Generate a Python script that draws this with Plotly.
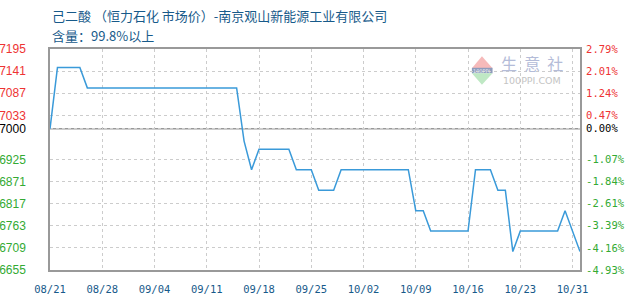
import pandas as pd
import plotly.graph_objects as go

# ---- data ----
title_text = "己二酸 （恒力石化 市场价）-南京观山新能源工业有限公司"
subtitle_text = "含量：99.8%以上"
base_price = 7000

dates_all = pd.date_range("2023-08-21", "2023-11-01", freq="D")
skip_dates = ["10/28"]
dates = [d.strftime("%m/%d") for d in dates_all if d.strftime("%m/%d") not in skip_dates]

prices = ([7000] + [7150] * 4 + [7100] * 21 + [6970, 6900] + [6950] * 5 +
          [6900] * 3 + [6850] * 3 + [6900] * 10 + [6800] * 2 + [6750] * 6 +
          [6900] * 3 + [6850] * 2 + [6700] + [6750] * 6 + [6800, 6750, 6700])

y_ticks = [7195, 7141, 7087, 7033, 7000, 6925, 6871, 6817, 6763, 6709, 6655]
x_tick_labels = [dates[i] for i in range(0, len(dates), 7)]

RED = "#ee3333"
GREEN = "#33aa33"
BLACK = "#000000"
BLUE_TXT = "#175a8a"


def col(v):
    return RED if v > base_price else (GREEN if v < base_price else BLACK)


pct = [(p - base_price) / base_price * 100 for p in prices]
pct_ticks = [(v - base_price) / base_price * 100 for v in y_ticks]
left_text = [f'<span style="color:{col(v)}">{v}</span>' for v in y_ticks]
right_text = [f'<span style="color:{col(v)}">{p:.2f}%</span>' for v, p in zip(y_ticks, pct_ticks)]

fig = go.Figure()
fig.add_trace(go.Scatter(x=dates, y=prices, mode="lines",
                         line=dict(color="#3a9ad9", width=1.5),
                         hoverinfo="x+y", showlegend=False))
fig.add_trace(go.Scatter(x=dates, y=pct, mode="lines", yaxis="y2",
                         line=dict(color="rgba(0,0,0,0)", width=0),
                         hoverinfo="skip", showlegend=False))

ymin, ymax = min(y_ticks), max(y_ticks)
mono = "DejaVu Sans Mono"

fig.update_layout(
    width=630, height=300,
    margin=dict(l=50, r=50, t=49, b=30, autoexpand=False),
    paper_bgcolor="white", plot_bgcolor="white",
    xaxis=dict(type="category", range=[0, len(dates) - 1], automargin=False,
               tickvals=x_tick_labels, ticktext=x_tick_labels,
               showgrid=True, gridcolor="#cccccc", griddash="3px,3px", gridwidth=1,
               showline=True, linecolor="#999999", linewidth=1.5, mirror=True,
               ticks="outside", ticklen=9, tickcolor="rgba(0,0,0,0)",
               tickfont=dict(family=mono, size=10.5, color=BLUE_TXT),
               zeroline=False, fixedrange=True),
    yaxis=dict(range=[ymin, ymax], tickvals=y_ticks, ticktext=left_text, automargin=False,
               showgrid=True, gridcolor="#cccccc", griddash="3px,3px", gridwidth=1,
               showline=True, linecolor="#999999", linewidth=1.5, mirror=True,
               ticks="outside", ticklen=20, tickcolor="rgba(0,0,0,0)",
               tickfont=dict(family="Liberation Sans", size=12),
               zeroline=False, fixedrange=True),
    yaxis2=dict(overlaying="y", side="right", automargin=False,
                range=[(ymin - base_price) / base_price * 100, (ymax - base_price) / base_price * 100],
                tickvals=pct_ticks, ticktext=right_text,
                showgrid=False, showline=False, zeroline=False,
                ticks="outside", ticklen=3, tickcolor="rgba(0,0,0,0)",
                tickfont=dict(family=mono, size=10.5), fixedrange=True),
    shapes=[
        dict(type="line", xref="paper", x0=0, x1=1, yref="y", y0=base_price, y1=base_price,
             line=dict(color="#999999", width=1.5), layer="below"),
        # watermark logo
        dict(type="path", xref="paper", yref="paper",
             path="M 0.796 0.913 L 0.815 0.967 L 0.835 0.913 Z",
             fillcolor="#f6baba", line=dict(width=0), layer="below"),
        dict(type="rect", xref="paper", yref="paper", x0=0.796, x1=0.835, y0=0.890, y1=0.915,
             fillcolor="#8f9cbc", line=dict(width=0), layer="below"),
        dict(type="path", xref="paper", yref="paper",
             path="M 0.796 0.890 L 0.815 0.838 L 0.835 0.890 Z",
             fillcolor="#bfe8c4", line=dict(width=0), layer="below"),
    ],
    annotations=[
        dict(xref="paper", yref="paper", x=0, y=(270 - 15) / 221, xanchor="left", yanchor="middle",
             text=title_text, showarrow=False,
             font=dict(family="Noto Sans CJK SC", size=13, color=BLUE_TXT)),
        dict(xref="paper", yref="paper", x=0, y=(270 - 35) / 221, xanchor="left", yanchor="middle",
             text=subtitle_text, showarrow=False,
             font=dict(family="Noto Sans CJK SC", size=13, color=BLUE_TXT)),
        dict(xref="paper", yref="paper", x=0.910, y=0.935, xanchor="center", yanchor="middle",
             text="生  意  社", showarrow=False,
             font=dict(family="Noto Sans CJK SC", size=16, color="#b4bcd8")),
        dict(xref="paper", yref="paper", x=0.910, y=0.858, xanchor="center", yanchor="middle",
             text="100PPI.COM", showarrow=False,
             font=dict(family="DejaVu Sans", size=9.5, color="#c4c4c4")),
        dict(xref="paper", yref="paper", x=0.815, y=0.902, xanchor="center", yanchor="middle",
             text="100PPI", showarrow=False,
             font=dict(family="DejaVu Sans", size=5, color="#e8ecf4")),
    ],
)

fig.write_html("out.html")
